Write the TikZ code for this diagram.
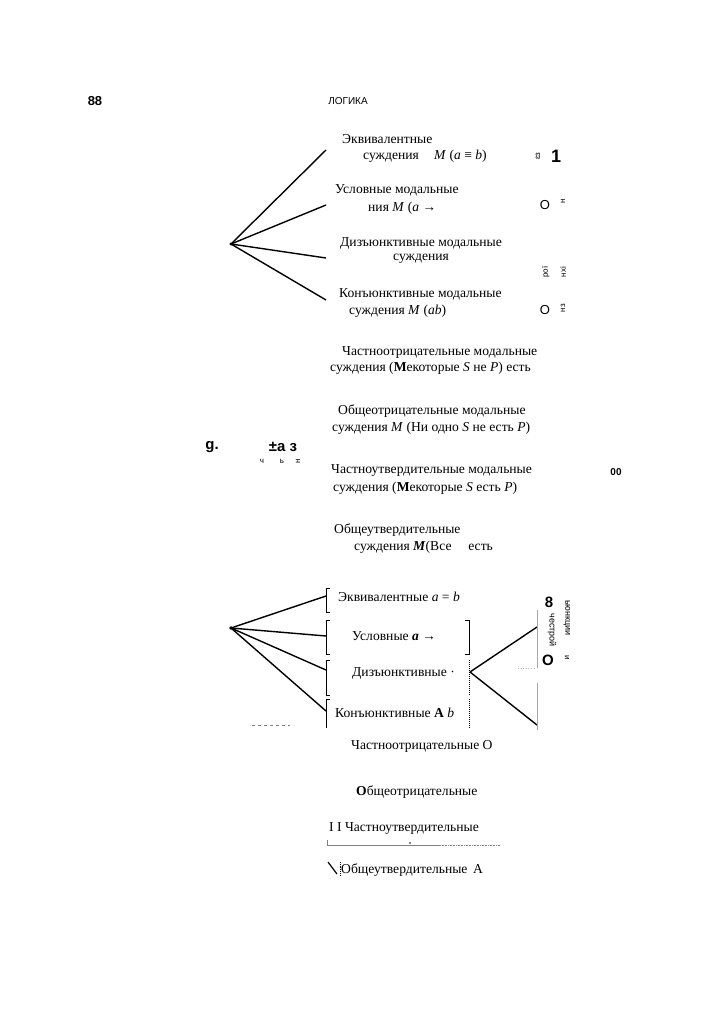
\documentclass[tikz,border=0pt]{standalone}
\usepackage{fontspec}
\setmainfont{Liberation Serif}
\setsansfont{Liberation Sans}
\begin{document}
\begin{tikzpicture}[x=1pt,y=-1pt,
  txt/.style={font=\fontsize{13.6}{15}\selectfont, inner sep=0pt, anchor=west},
  frag/.style={font=\sffamily\bfseries\fontsize{15}{17}\selectfont, inner sep=0pt},
  tiny/.style={font=\sffamily\fontsize{8}{9}\selectfont, inner sep=0pt},
  fan/.style={line width=1.4pt},
  brk/.style={line width=1pt}]
\useasboundingbox (0,0) rectangle (723,1024);
% header
\node[frag, font=\sffamily\bfseries\fontsize{13}{15}\selectfont] (pg) at (95,101) {88};
\node[inner sep=0pt, font=\sffamily\fontsize{10}{12}\selectfont] (hd) at (348,101) {ЛОГИКА};

% upper fan
\coordinate (h1) at (231,244);
\coordinate (u1) at (326,150);
\coordinate (u2) at (326,205);
\coordinate (u3) at (326,258);
\coordinate (u4) at (326,300);
\foreach \t in {u1,u2,u3,u4} \draw[fan] (h1) -- (\t);
\fill (h1) circle (1.6pt);

\node[txt] (e1) at (342,139) {Эквивалентные};
\node[txt] (e2) at (363,156) {суждения \hspace{12pt}\textit{M} (\textit{a} ≡ \textit{b})};
\node[txt] (c1) at (335,190) {Условные модальные};
\node[txt] (c2) at (368,208) {ния \textit{M} (\textit{a} →};
\node[txt] (d1) at (340,243) {Дизъюнктивные модальные};
\node[txt] (d2) at (393,259) {суждения};
\node[txt] (k1) at (339,294) {Конъюнктивные модальные};
\node[txt] (k2) at (349,311) {суждения \textit{M} (\textit{ab})};

% right fragments upper
\node[tiny, rotate=90] (r1a) at (538,156) {ɛɜ};
\node[frag, font=\sffamily\bfseries\fontsize{18}{20}\selectfont] (r1b) at (556,156) {1};
\node[frag, font=\sffamily\fontsize{13}{15}\selectfont] (r2a) at (545,205) {О};
\node[tiny, rotate=90] (r2b) at (563,201) {н};
\node[tiny, rotate=90] (r3a) at (546,272) {рої};
\node[tiny, rotate=90] (r3b) at (563,272) {нхі};
\node[frag, font=\sffamily\fontsize{13}{15}\selectfont] (r4a) at (545,310) {О};
\node[tiny, rotate=90] (r4b) at (563,308) {нз};

% middle list
\node[txt] (m1) at (342,352) {Частноотрицательные модальные};
\node[txt] (m2) at (330,368) {суждения (\textbf{M}екоторые \textit{S} не \textit{P}) есть};
\node[txt] (m3) at (338,411) {Общеотрицательные модальные};
\node[txt] (m4) at (332,428) {суждения \textit{M} (Ни одно \textit{S} не есть \textit{P})};
\node[txt] (m5) at (331,471) {Частноутвердительные модальные};
\node[txt] (m6) at (333,488) {суждения (\textbf{M}екоторые \textit{S} есть \textit{P})};
\node[txt] (m7) at (334,530) {Общеутвердительные};
\node[txt] (m8) at (354,547) {суждения \textbf{\textit{M}}(Все \hspace{10pt} есть};

% left fragments middle
\node[frag] (g1) at (212,447) {g.};
\node[frag] (g2) at (283,447) {±а з};
\node[tiny] (g3) at (262,461) {ч};
\node[tiny] (g4) at (282,461) {ь};
\node[tiny, rotate=90] (g5) at (298,461) {н};
\node[frag, font=\sffamily\bfseries\fontsize{10}{12}\selectfont] (oo) at (616,472) {00};

% lower fan
\coordinate (h2) at (231,628);
\coordinate (v1) at (326,596);
\coordinate (v2) at (326,636);
\coordinate (v3) at (326,670);
\coordinate (v4) at (326,711);
\foreach \t in {v1,v2,v3,v4} \draw[fan] (h2) -- (\t);
\fill (h2) circle (1.8pt);

% left brackets
\draw[brk] (330,588) -- (326,588) -- (326,612) -- (330,612);
\draw[brk] (330,620) -- (326,620) -- (326,654) -- (330,654);
\draw[brk] (330,660) -- (326,660) -- (326,695) -- (330,695);
\draw[brk] (330,699) -- (326,699) -- (326,728);
% right brackets
\draw[brk] (465,620) -- (469,620) -- (469,654) -- (465,654);
\draw[brk, densely dotted] (469,660) -- (469,695);
\draw[brk, densely dotted] (469,699) -- (469,728);

\node[txt] (l1) at (338,597) {Эквивалентные \textit{a} = \textit{b}};
\node[txt] (l2) at (352,636) {Условные \textbf{\textit{a}} →};
\node[txt] (l3) at (352,673) {Дизъюнктивные ·};
\node[txt] (l4) at (335,713) {Конъюнктивные \textbf{A} \textit{b}};

% right fan
\coordinate (h3) at (470,672);
\coordinate (w1) at (537,627);
\coordinate (w2) at (537,725);
\draw[fan] (h3) -- (w1);
\draw[fan] (h3) -- (w2);
\draw[line width=0.8pt, gray!70] (537,610) -- (537,668);
\draw[line width=0.8pt, gray!70] (537,683) -- (537,730);
\draw[gray!60, dotted, line width=0.6pt] (518,668) -- (534,668);
\node[frag] (q1) at (549,602) {8};
\node[frag] (q2) at (548,660) {О};
\node[tiny, font=\sffamily\fontsize{9}{10}\selectfont, rotate=-90] (q3) at (552,630) {честрой};
\node[tiny, font=\sffamily\fontsize{9}{10}\selectfont, rotate=-90] (q4) at (567,618) {ьюнкции};
\node[tiny, rotate=-90] (q5) at (567,658) {и};
\draw[gray, dashed, line width=0.8pt] (252,725) -- (290,725);

% bottom list
\node[txt] (b1) at (351,746) {Частноотрицательные О};
\node[txt] (b2) at (356,792) {\textbf{О}бщеотрицательные};
\node[txt] (b3) at (329,829) {I I Частноутвердительные};
\draw[gray, line width=0.6pt] (327,840) -- (327,845) -- (440,845);
\draw[gray, densely dotted, line width=0.6pt] (440,845) -- (500,845);
\fill (410,843) circle (0.9pt);
\node[txt] (b4) at (341,870) {Общеутвердительные \,А};
\draw[line width=1.2pt] (328,862) -- (337,874);
\draw[line width=0.8pt, densely dotted] (340,862) -- (340,876);
\end{tikzpicture}
\end{document}
